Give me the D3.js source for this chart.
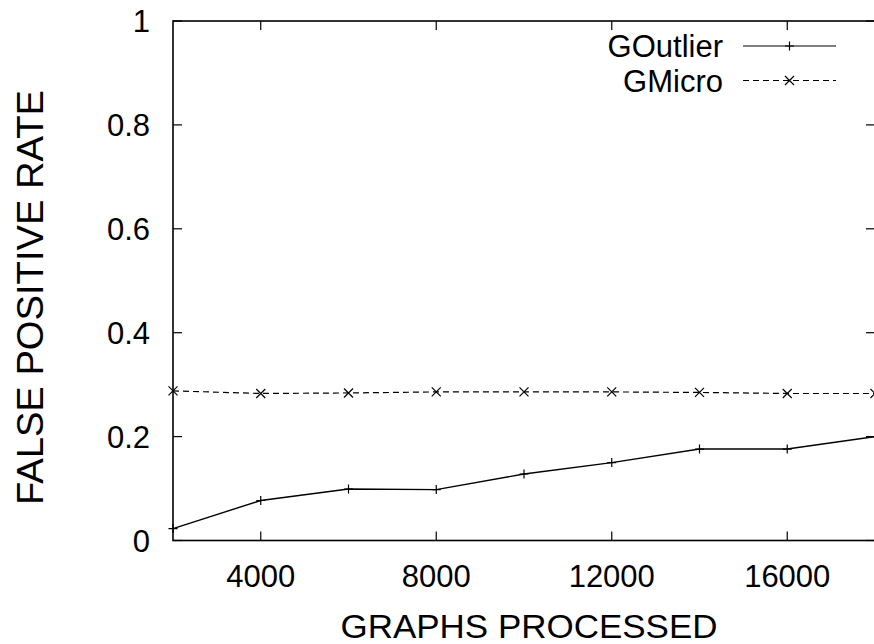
<!DOCTYPE html>
<html>
<head>
<script src="https://d3js.org/d3.v7.min.js"></script>
<style>
  body { margin: 0; background: #fff; }
  svg text { font-family: "Liberation Sans", Arial, sans-serif; fill: #000; }
</style>
</head>
<body>
<div id="chart"></div>
<script>
// data
var graphs = [2000, 4000, 6000, 8000, 10000, 12000, 14000, 16000, 18000];
var goutlier = [0.023, 0.077, 0.099, 0.098, 0.128, 0.150, 0.176, 0.176, 0.200];
var gmicro = [0.288, 0.283, 0.284, 0.286, 0.286, 0.286, 0.285, 0.283, 0.283];
var xTicks = [4000, 8000, 12000, 16000];
var yTicks = [0, 0.2, 0.4, 0.6, 0.8, 1];

var width = 874, height = 644;
var plotLeft = 173, plotRight = 875, plotTop = 21, plotBottom = 540.5;

var svg = d3.select('#chart').append('svg')
    .attr('width', width)
    .attr('height', height);

var x = d3.scaleLinear().domain([2000, 18000]).range([plotLeft, plotRight]);
var y = d3.scaleLinear().domain([0, 1]).range([plotBottom, plotTop]);

var tickLen = 9;

// ticks (inward, mirrored)
svg.selectAll('.ytick').data(yTicks).enter().append('g').each(function(d) {
    var g = d3.select(this);
    g.append('line').attr('x1', plotLeft).attr('x2', plotLeft + tickLen)
        .attr('y1', y(d)).attr('y2', y(d)).attr('stroke', '#000').attr('stroke-width', 1.2);
    g.append('line').attr('x1', plotRight).attr('x2', plotRight - tickLen)
        .attr('y1', y(d)).attr('y2', y(d)).attr('stroke', '#000').attr('stroke-width', 1.2);
    g.append('text').attr('x', 150).attr('y', y(d)).attr('dy', '0.36em')
        .attr('text-anchor', 'end').attr('font-size', 31)
        .text(d3.format('~g')(d));
});

svg.selectAll('.xtick').data(xTicks).enter().append('g').each(function(d) {
    var g = d3.select(this);
    g.append('line').attr('x1', x(d)).attr('x2', x(d))
        .attr('y1', plotBottom).attr('y2', plotBottom - tickLen).attr('stroke', '#000').attr('stroke-width', 1.2);
    g.append('line').attr('x1', x(d)).attr('x2', x(d))
        .attr('y1', plotTop).attr('y2', plotTop + tickLen).attr('stroke', '#000').attr('stroke-width', 1.2);
    g.append('text').attr('x', x(d)).attr('y', 587)
        .attr('text-anchor', 'middle').attr('font-size', 31)
        .text(d);
});

// frame
svg.append('rect')
    .attr('x', plotLeft).attr('y', plotTop)
    .attr('width', plotRight - plotLeft).attr('height', plotBottom - plotTop)
    .attr('fill', 'none').attr('stroke', '#000').attr('stroke-width', 1.6);

// axis titles
svg.append('text')
    .attr('x', 529).attr('y', 637.5)
    .attr('text-anchor', 'middle').attr('font-size', 34)
    .attr('textLength', 377).attr('lengthAdjust', 'spacingAndGlyphs')
    .text('GRAPHS PROCESSED');
svg.append('text')
    .attr('transform', 'translate(43,297.5) rotate(-90)')
    .attr('text-anchor', 'middle').attr('font-size', 36)
    .attr('textLength', 415).attr('lengthAdjust', 'spacingAndGlyphs')
    .text('FALSE POSITIVE RATE');

var line = d3.line()
    .x(function(d) { return x(d[0]); })
    .y(function(d) { return y(d[1]); });

function plusMark(g, cx, cy) {
    g.append('path').attr('d', 'M' + (cx - 4.5) + ',' + cy + 'H' + (cx + 4.5) + 'M' + cx + ',' + (cy - 4.5) + 'V' + (cy + 4.5))
        .attr('stroke', '#000').attr('stroke-width', 1.2).attr('fill', 'none');
}
function crossMark(g, cx, cy) {
    var r = 4.5;
    g.append('path').attr('d', 'M' + (cx - r) + ',' + (cy - r) + 'L' + (cx + r) + ',' + (cy + r) + 'M' + (cx - r) + ',' + (cy + r) + 'L' + (cx + r) + ',' + (cy - r))
        .attr('stroke', '#000').attr('stroke-width', 1.2).attr('fill', 'none');
}

var plot = svg.append('g');

plot.append('path')
    .datum(d3.zip(graphs, gmicro))
    .attr('d', line)
    .attr('fill', 'none').attr('stroke', '#000').attr('stroke-width', 1.2)
    .attr('stroke-dasharray', '6,4');
d3.zip(graphs, gmicro).forEach(function(d) { crossMark(plot, x(d[0]), y(d[1])); });

plot.append('path')
    .datum(d3.zip(graphs, goutlier))
    .attr('d', line)
    .attr('fill', 'none').attr('stroke', '#000').attr('stroke-width', 1.4);
d3.zip(graphs, goutlier).forEach(function(d) { plusMark(plot, x(d[0]), y(d[1])); });

// legend
var legend = [
    { name: 'GOutlier', dash: null, mark: plusMark },
    { name: 'GMicro', dash: '6,4', mark: crossMark }
];
legend.forEach(function(d, i) {
    var ly = 46 + i * 34.5;
    svg.append('text').attr('x', 723).attr('y', ly).attr('dy', '0.36em')
        .attr('text-anchor', 'end').attr('font-size', 31).text(d.name);
    svg.append('line').attr('x1', 743).attr('x2', 836).attr('y1', ly).attr('y2', ly)
        .attr('stroke', '#000').attr('stroke-width', 1.2)
        .attr('stroke-dasharray', d.dash);
    d.mark(svg, 789.5, ly);
});
</script>
</body>
</html>
